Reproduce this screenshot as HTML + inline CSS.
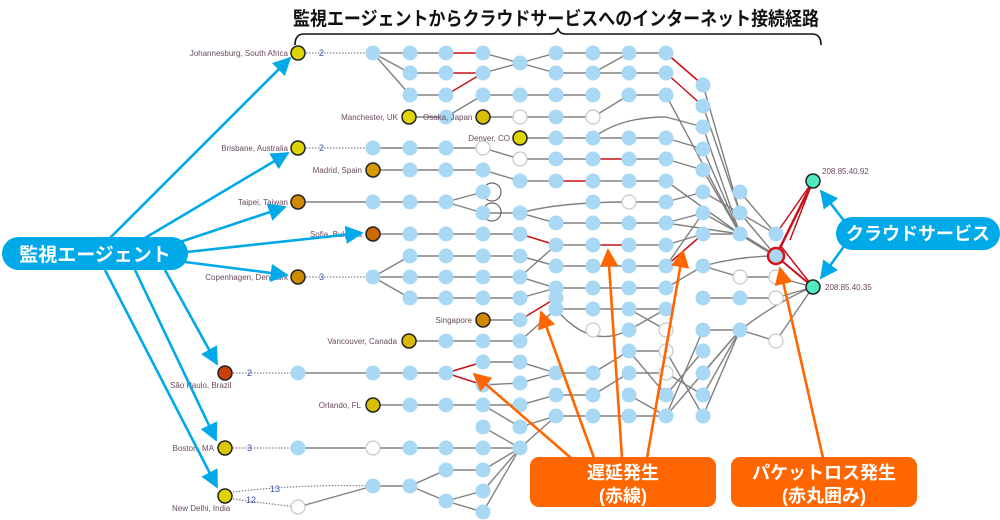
<!DOCTYPE html>
<html><head><meta charset="utf-8"><style>
html,body{margin:0;padding:0;background:#fff;width:1000px;height:520px;overflow:hidden}
svg{display:block}
.l{font-family:"Liberation Sans",sans-serif;font-size:8px;fill:#6a4a60}
.n{font-family:"Liberation Sans",sans-serif;font-size:9px;fill:#4050b0}
.j{font-family:"Liberation Sans","Noto Sans CJK JP",sans-serif;font-weight:bold;fill:#fff}
</style></head><body>
<svg width="1000" height="520" viewBox="0 0 1000 520" xmlns="http://www.w3.org/2000/svg">
<defs>
<marker id="ab" viewBox="0 0 10 10" refX="9" refY="5" markerWidth="7" markerHeight="7" orient="auto"><path d="M0,0L10,5L0,10z" fill="#00a9e8"/></marker>
<marker id="ao" viewBox="0 0 10 10" refX="9" refY="5" markerWidth="7" markerHeight="7" orient="auto"><path d="M0,0L10,5L0,10z" fill="#ff6600"/></marker>
</defs>
<text x="556" y="25" text-anchor="middle" font-family="Liberation Sans,Noto Sans CJK JP,sans-serif" font-weight="bold" font-size="19" fill="#111" textLength="526" lengthAdjust="spacingAndGlyphs">監視エージェントからクラウドサービスへのインターネット接続経路</text>
<path d="M295,45 Q295,34 304,34 L550,34 Q557,34 558,28 Q559,34 566,34 L812,34 Q821,34 821,45" fill="none" stroke="#111" stroke-width="1.6"/>

<g stroke="#888" stroke-width="1.3" stroke-dasharray="1.5,1.5" fill="none">
<line x1="306" y1="53" x2="373" y2="53"/><line x1="306" y1="148" x2="373" y2="148"/><line x1="306" y1="277" x2="373" y2="277"/>
<line x1="233" y1="373" x2="298" y2="373"/><line x1="233" y1="448" x2="298" y2="448"/>
<path d="M233,492 Q300,484 373,486"/><path d="M233,499 Q270,504 298,507"/>
</g>
<g class="n"><text x="319" y="56">2</text><text x="319" y="151">2</text><text x="319" y="280">3</text><text x="247" y="376">2</text><text x="247" y="451">3</text><text x="270" y="492">13</text><text x="246" y="503">12</text></g>

<g stroke="#808080" stroke-width="1.4" fill="none">
<polyline points="373,53 446,53"/><polyline points="483,53 520,63 556,73 629,73 666,73"/><polyline points="483,73 520,63 556,53 666,53"/><line x1="593" y1="73" x2="629" y2="53"/>
<line x1="373" y1="53" x2="410" y2="73"/><line x1="373" y1="53" x2="410" y2="95"/><line x1="410" y1="73" x2="446" y2="73"/><line x1="410" y1="95" x2="446" y2="95"/>
<polyline points="483,95 593,95"/><line x1="593" y1="117" x2="629" y2="95"/><line x1="629" y1="95" x2="666" y2="95"/><line x1="446" y1="117" x2="483" y2="95"/>
<line x1="409" y1="117" x2="446" y2="117"/><polyline points="483,117 593,117"/>
<polyline points="520,138 666,138"/><path d="M593,138 Q620,117 666,117"/>
<polyline points="373,148 483,148 520,159 593,159"/><line x1="629" y1="159" x2="666" y2="159"/>
<polyline points="373,170 483,170 520,181 556,181"/><polyline points="593,181 666,181"/>
<polyline points="298,202 446,202"/><line x1="446" y1="202" x2="483" y2="192"/><line x1="446" y1="202" x2="483" y2="213"/><polyline points="483,213 520,213 556,223 666,223"/><path d="M520,213 Q560,202 629,202 L666,202"/>
<polyline points="373,234 520,234"/><polyline points="556,245 593,245"/><line x1="629" y1="245" x2="666" y2="245"/>
<line x1="373" y1="277" x2="410" y2="256"/><line x1="373" y1="277" x2="410" y2="298"/><polyline points="410,256 520,256 556,266 666,266"/>
<polyline points="373,277 520,277 556,288 666,288"/><polyline points="410,298 520,298"/><line x1="520" y1="277" x2="556" y2="245"/>
<line x1="483" y1="320" x2="520" y2="320"/><polyline points="409,341 520,341 556,309 666,309"/><path d="M556,309 Q590,350 629,330"/>
<polyline points="298,373 446,373"/><polyline points="483,362 520,362 556,373 593,373 629,351 666,351"/><polyline points="483,385 520,383 556,373"/>
<polyline points="373,405 483,405 520,405 556,395 593,395 629,373 666,373"/><line x1="483" y1="405" x2="520" y2="427"/><polyline points="520,427 556,416 666,416"/>
<polyline points="298,448 520,448 556,416"/><line x1="446" y1="373" x2="483" y2="362"/>
<polyline points="373,486 410,486 446,470 483,470"/><line x1="410" y1="486" x2="446" y2="501"/><line x1="298" y1="507" x2="373" y2="486"/><line x1="446" y1="501" x2="483" y2="491"/><line x1="446" y1="501" x2="483" y2="512"/>
<line x1="520" y1="448" x2="483" y2="470"/><line x1="520" y1="448" x2="483" y2="491"/><line x1="520" y1="448" x2="483" y2="512"/><line x1="520" y1="448" x2="483" y2="427"/>
<line x1="629" y1="330" x2="666" y2="309"/><line x1="629" y1="309" x2="666" y2="330"/><line x1="629" y1="351" x2="666" y2="395"/><line x1="629" y1="395" x2="666" y2="416"/>
<line x1="666" y1="288" x2="703" y2="266"/><line x1="666" y1="416" x2="703" y2="330"/><line x1="666" y1="395" x2="703" y2="351"/><line x1="666" y1="373" x2="703" y2="395"/><line x1="666" y1="351" x2="703" y2="416"/>
<polyline points="703,298 740,298 776,298"/><polyline points="703,330 740,330 776,341"/><line x1="740" y1="330" x2="703" y2="373"/><line x1="740" y1="330" x2="703" y2="395"/><line x1="740" y1="330" x2="703" y2="416"/><line x1="740" y1="330" x2="666" y2="416"/>
<polyline points="703,266 740,277 776,277 813,287"/><path d="M703,266 Q740,256 776,256"/>
<line x1="776" y1="298" x2="813" y2="287"/><line x1="776" y1="341" x2="813" y2="287"/><path d="M740,330 Q780,300 813,287"/>
<line x1="666" y1="53" x2="703" y2="85"/><line x1="703" y1="85" x2="740" y2="213"/><line x1="703" y1="106" x2="740" y2="213"/><line x1="666" y1="95" x2="740" y2="234"/><line x1="666" y1="117" x2="703" y2="127"/><line x1="703" y1="127" x2="740" y2="234"/><line x1="666" y1="138" x2="703" y2="149"/><line x1="703" y1="149" x2="740" y2="234"/><line x1="666" y1="159" x2="703" y2="170"/><line x1="703" y1="170" x2="740" y2="234"/><line x1="666" y1="181" x2="740" y2="234"/>
<line x1="666" y1="202" x2="703" y2="192"/><line x1="703" y1="192" x2="776" y2="234"/><line x1="666" y1="223" x2="703" y2="213"/><line x1="703" y1="213" x2="740" y2="234"/><line x1="666" y1="245" x2="703" y2="234"/><line x1="703" y1="234" x2="740" y2="234"/><line x1="666" y1="266" x2="703" y2="213"/>
<line x1="740" y1="192" x2="776" y2="234"/><line x1="740" y1="213" x2="776" y2="256"/>
<line x1="740" y1="234" x2="776" y2="256" stroke-width="2.6"/><line x1="666" y1="223" x2="740" y2="234"/>
<line x1="520" y1="256" x2="556" y2="266"/><line x1="520" y1="298" x2="556" y2="288"/>
</g>
<g stroke="#c8101a" stroke-width="1.5" fill="none">
<line x1="446" y1="53" x2="483" y2="53"/><line x1="446" y1="73" x2="483" y2="73"/><line x1="446" y1="95" x2="483" y2="73"/>
<line x1="666" y1="53" x2="703" y2="85"/><line x1="666" y1="73" x2="703" y2="106"/><line x1="593" y1="159" x2="629" y2="159"/><line x1="556" y1="181" x2="593" y2="181"/>
<line x1="520" y1="234" x2="556" y2="245"/><line x1="593" y1="245" x2="629" y2="245"/><line x1="666" y1="266" x2="703" y2="234"/>
<line x1="520" y1="320" x2="556" y2="298"/><line x1="446" y1="373" x2="483" y2="362"/><line x1="446" y1="373" x2="483" y2="385"/>
<line x1="776" y1="234" x2="813" y2="181"/><line x1="776" y1="256" x2="813" y2="181" stroke-width="2.5"/><line x1="776" y1="256" x2="813" y2="287" stroke-width="2"/><line x1="813" y1="181" x2="790" y2="240"/><line x1="813" y1="287" x2="780" y2="245"/>
</g>
<g stroke="#666" fill="none" stroke-width="1.2"><circle cx="492" cy="192" r="9"/><circle cx="492" cy="212" r="9"/></g>

<g fill="#a9d8f5">
<circle cx="373" cy="53" r="7.5"/><circle cx="410" cy="53" r="7.5"/><circle cx="446" cy="53" r="7.5"/><circle cx="483" cy="53" r="7.5"/><circle cx="556" cy="53" r="7.5"/><circle cx="593" cy="53" r="7.5"/><circle cx="629" cy="53" r="7.5"/><circle cx="666" cy="53" r="7.5"/>
<circle cx="520" cy="63" r="7.5"/>
<circle cx="410" cy="73" r="7.5"/><circle cx="446" cy="73" r="7.5"/><circle cx="483" cy="73" r="7.5"/><circle cx="556" cy="73" r="7.5"/><circle cx="593" cy="73" r="7.5"/><circle cx="629" cy="73" r="7.5"/><circle cx="666" cy="73" r="7.5"/>
<circle cx="410" cy="95" r="7.5"/><circle cx="446" cy="95" r="7.5"/><circle cx="483" cy="95" r="7.5"/><circle cx="520" cy="95" r="7.5"/><circle cx="556" cy="95" r="7.5"/><circle cx="593" cy="95" r="7.5"/><circle cx="629" cy="95" r="7.5"/><circle cx="666" cy="95" r="7.5"/>
<circle cx="446" cy="117" r="7.5"/><circle cx="556" cy="117" r="7.5"/>
<circle cx="556" cy="138" r="7.5"/><circle cx="593" cy="138" r="7.5"/><circle cx="629" cy="138" r="7.5"/><circle cx="666" cy="138" r="7.5"/>
<circle cx="373" cy="148" r="7.5"/><circle cx="410" cy="148" r="7.5"/><circle cx="446" cy="148" r="7.5"/>
<circle cx="556" cy="159" r="7.5"/><circle cx="593" cy="159" r="7.5"/><circle cx="629" cy="159" r="7.5"/><circle cx="666" cy="159" r="7.5"/>
<circle cx="410" cy="170" r="7.5"/><circle cx="446" cy="170" r="7.5"/><circle cx="483" cy="170" r="7.5"/>
<circle cx="520" cy="181" r="7.5"/><circle cx="556" cy="181" r="7.5"/><circle cx="593" cy="181" r="7.5"/><circle cx="629" cy="181" r="7.5"/><circle cx="666" cy="181" r="7.5"/>
<circle cx="373" cy="202" r="7.5"/><circle cx="410" cy="202" r="7.5"/><circle cx="446" cy="202" r="7.5"/><circle cx="593" cy="202" r="7.5"/><circle cx="666" cy="202" r="7.5"/>
<circle cx="483" cy="192" r="7.5"/><circle cx="483" cy="213" r="7.5"/><circle cx="520" cy="213" r="7.5"/>
<circle cx="556" cy="223" r="7.5"/><circle cx="593" cy="223" r="7.5"/><circle cx="629" cy="223" r="7.5"/><circle cx="666" cy="223" r="7.5"/>
<circle cx="410" cy="234" r="7.5"/><circle cx="446" cy="234" r="7.5"/><circle cx="483" cy="234" r="7.5"/><circle cx="520" cy="234" r="7.5"/>
<circle cx="556" cy="245" r="7.5"/><circle cx="593" cy="245" r="7.5"/><circle cx="629" cy="245" r="7.5"/><circle cx="666" cy="245" r="7.5"/>
<circle cx="410" cy="256" r="7.5"/><circle cx="446" cy="256" r="7.5"/><circle cx="483" cy="256" r="7.5"/><circle cx="520" cy="256" r="7.5"/>
<circle cx="556" cy="266" r="7.5"/><circle cx="593" cy="266" r="7.5"/><circle cx="629" cy="266" r="7.5"/><circle cx="666" cy="266" r="7.5"/>
<circle cx="373" cy="277" r="7.5"/><circle cx="410" cy="277" r="7.5"/><circle cx="446" cy="277" r="7.5"/><circle cx="483" cy="277" r="7.5"/><circle cx="520" cy="277" r="7.5"/>
<circle cx="556" cy="288" r="7.5"/><circle cx="593" cy="288" r="7.5"/><circle cx="629" cy="288" r="7.5"/><circle cx="666" cy="288" r="7.5"/>
<circle cx="410" cy="298" r="7.5"/><circle cx="446" cy="298" r="7.5"/><circle cx="483" cy="298" r="7.5"/><circle cx="520" cy="298" r="7.5"/><circle cx="556" cy="298" r="7.5"/>
<circle cx="520" cy="320" r="7.5"/><circle cx="556" cy="309" r="7.5"/><circle cx="593" cy="309" r="7.5"/><circle cx="629" cy="309" r="7.5"/><circle cx="666" cy="309" r="7.5"/>
<circle cx="446" cy="341" r="7.5"/><circle cx="483" cy="341" r="7.5"/><circle cx="520" cy="341" r="7.5"/><circle cx="629" cy="330" r="7.5"/><circle cx="629" cy="351" r="7.5"/>
<circle cx="298" cy="373" r="7.5"/><circle cx="373" cy="373" r="7.5"/><circle cx="410" cy="373" r="7.5"/><circle cx="446" cy="373" r="7.5"/><circle cx="483" cy="362" r="7.5"/><circle cx="483" cy="385" r="7.5"/><circle cx="520" cy="362" r="7.5"/><circle cx="520" cy="383" r="7.5"/>
<circle cx="556" cy="373" r="7.5"/><circle cx="593" cy="373" r="7.5"/><circle cx="556" cy="395" r="7.5"/><circle cx="593" cy="395" r="7.5"/><circle cx="629" cy="373" r="7.5"/><circle cx="629" cy="395" r="7.5"/>
<circle cx="410" cy="405" r="7.5"/><circle cx="446" cy="405" r="7.5"/><circle cx="483" cy="405" r="7.5"/><circle cx="520" cy="405" r="7.5"/><circle cx="520" cy="427" r="7.5"/>
<circle cx="556" cy="416" r="7.5"/><circle cx="593" cy="416" r="7.5"/><circle cx="629" cy="416" r="7.5"/><circle cx="666" cy="416" r="7.5"/><circle cx="666" cy="395" r="7.5"/>
<circle cx="298" cy="448" r="7.5"/><circle cx="410" cy="448" r="7.5"/><circle cx="446" cy="448" r="7.5"/><circle cx="483" cy="448" r="7.5"/><circle cx="520" cy="448" r="7.5"/>
<circle cx="373" cy="486" r="7.5"/><circle cx="410" cy="486" r="7.5"/><circle cx="446" cy="470" r="7.5"/><circle cx="446" cy="501" r="7.5"/><circle cx="483" cy="470" r="7.5"/><circle cx="483" cy="491" r="7.5"/><circle cx="483" cy="512" r="7.5"/><circle cx="483" cy="427" r="7.5"/>
<circle cx="703" cy="85" r="7.5"/><circle cx="703" cy="106" r="7.5"/><circle cx="703" cy="127" r="7.5"/><circle cx="703" cy="149" r="7.5"/><circle cx="703" cy="170" r="7.5"/><circle cx="703" cy="192" r="7.5"/><circle cx="703" cy="213" r="7.5"/><circle cx="703" cy="234" r="7.5"/><circle cx="703" cy="266" r="7.5"/>
<circle cx="740" cy="192" r="7.5"/><circle cx="740" cy="213" r="7.5"/><circle cx="740" cy="234" r="7.5"/><circle cx="776" cy="234" r="7.5"/>
<circle cx="703" cy="298" r="7.5"/><circle cx="740" cy="298" r="7.5"/><circle cx="703" cy="330" r="7.5"/><circle cx="740" cy="330" r="7.5"/><circle cx="703" cy="351" r="7.5"/><circle cx="703" cy="373" r="7.5"/><circle cx="703" cy="395" r="7.5"/><circle cx="703" cy="416" r="7.5"/>
</g>
<g fill="#fff" stroke="#c8c8c8" stroke-width="1.2">
<circle cx="520" cy="117" r="7"/><circle cx="593" cy="117" r="7"/><circle cx="483" cy="148" r="7"/><circle cx="520" cy="159" r="7"/><circle cx="629" cy="202" r="7"/>
<circle cx="593" cy="330" r="7"/><circle cx="666" cy="330" r="7"/><circle cx="666" cy="351" r="7"/><circle cx="666" cy="373" r="7"/>
<circle cx="740" cy="277" r="7"/><circle cx="776" cy="277" r="7"/><circle cx="776" cy="298" r="7"/><circle cx="776" cy="341" r="7"/>
<circle cx="373" cy="448" r="7"/><circle cx="298" cy="507" r="7"/>
</g>
<circle cx="776" cy="256" r="8" fill="#a9d8f5" stroke="#e0101a" stroke-width="2.5"/>
<g stroke="#222" stroke-width="1.5">
<circle cx="298" cy="53" r="7" fill="#ddd400"/><circle cx="409" cy="117" r="7" fill="#ddd400"/><circle cx="483" cy="117" r="7" fill="#d8c000"/><circle cx="520" cy="138" r="7" fill="#ddd400"/>
<circle cx="298" cy="148" r="7" fill="#ddd400"/><circle cx="373" cy="170" r="7" fill="#d49a00"/><circle cx="298" cy="202" r="7" fill="#d08a00"/><circle cx="373" cy="234" r="7" fill="#cc6a00"/>
<circle cx="298" cy="277" r="7" fill="#d08a00"/><circle cx="483" cy="320" r="7" fill="#d08a00"/><circle cx="409" cy="341" r="7" fill="#d8b800"/><circle cx="225" cy="373" r="7" fill="#c8410a"/>
<circle cx="373" cy="405" r="7" fill="#d8c000"/><circle cx="225" cy="448" r="7" fill="#ddc800"/><circle cx="225" cy="496" r="7" fill="#ddd400"/>
<circle cx="813" cy="181" r="7" fill="#50e8c0"/><circle cx="813" cy="287" r="7" fill="#50e8c0"/>
</g>
<g class="l">
<text x="288" y="56" text-anchor="end">Johannesburg, South Africa</text><text x="398" y="120" text-anchor="end">Manchester, UK</text><text x="423" y="120">Osaka, Japan</text>
<text x="510" y="141" text-anchor="end">Denver, CO</text><text x="288" y="151" text-anchor="end">Brisbane, Australia</text><text x="362" y="173" text-anchor="end">Madrid, Spain</text>
<text x="288" y="205" text-anchor="end">Taipei, Taiwan</text><text x="362" y="237" text-anchor="end">Sofia, Bulgaria</text><text x="288" y="280" text-anchor="end">Copenhagen, Denmark</text>
<text x="472" y="323" text-anchor="end">Singapore</text><text x="397" y="344" text-anchor="end">Vancouver, Canada</text><text x="170" y="388">São Paulo, Brazil</text>
<text x="361" y="408" text-anchor="end">Orlando, FL</text><text x="214" y="451" text-anchor="end">Boston, MA</text><text x="172" y="511">New Delhi, India</text>
<text x="822" y="174">208.85.40.92</text><text x="825" y="290">208.85.40.35</text>
</g>

<g stroke="#00a9e8" stroke-width="2.6" marker-end="url(#ab)" fill="none">
<line x1="110" y1="238" x2="290" y2="58"/><line x1="145" y1="238" x2="288" y2="153"/><line x1="180" y1="242" x2="285" y2="207"/>
<line x1="187" y1="252" x2="362" y2="233"/><line x1="185" y1="262" x2="287" y2="275"/>
<line x1="165" y1="270" x2="217" y2="364"/><line x1="135" y1="270" x2="216" y2="440"/><line x1="105" y1="270" x2="217" y2="487"/>
<line x1="845" y1="222" x2="821" y2="191"/><line x1="845" y1="245" x2="821" y2="278"/>
</g>
<rect x="2" y="237" width="186" height="33" rx="16.5" fill="#00a9e8"/>
<text x="95" y="261" text-anchor="middle" class="j" font-size="19">監視エージェント</text>
<rect x="836" y="217" width="164" height="33" rx="16.5" fill="#00a9e8"/>
<text x="918" y="240" text-anchor="middle" class="j" font-size="18">クラウドサービス</text>

<g stroke="#ff6600" stroke-width="2.6" marker-end="url(#ao)" fill="none">
<line x1="571" y1="458" x2="474" y2="374"/><line x1="594" y1="458" x2="541" y2="312"/><line x1="622" y1="458" x2="608" y2="250"/><line x1="647" y1="458" x2="683" y2="251"/>
<line x1="823" y1="458" x2="780" y2="268"/>
</g>
<rect x="530" y="457" width="186" height="50" rx="9" fill="#ff6600"/>
<text x="623" y="479" text-anchor="middle" class="j" font-size="18">遅延発生</text><text x="623" y="502" text-anchor="middle" class="j" font-size="18">(赤線)</text>
<rect x="731" y="457" width="186" height="50" rx="9" fill="#ff6600"/>
<text x="824" y="479" text-anchor="middle" class="j" font-size="18">パケットロス発生</text><text x="824" y="502" text-anchor="middle" class="j" font-size="18">(赤丸囲み)</text>
</svg>
</body></html>
